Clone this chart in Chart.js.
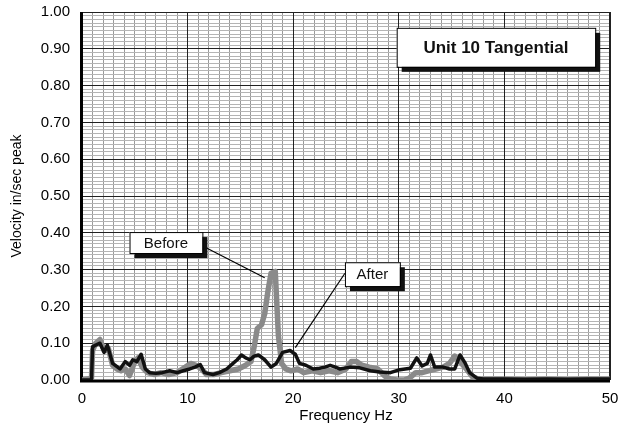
<!DOCTYPE html>
<html>
<head>
<meta charset="utf-8">
<script src="https://cdn.jsdelivr.net/npm/chart.js@4"></script>
<style>
  html, body { margin: 0; padding: 0; background: #fff; }
  #wrap { width: 624px; height: 433px; }
</style>
</head>
<body>
<div id="wrap"><canvas id="chart" width="624" height="433"></canvas></div>
<script>
// Before (gray) spectrum
const beforeFreq = [0, 0.9, 1.0, 1.3, 1.7, 2.1, 2.5, 2.9, 3.3, 3.7, 4.1, 4.5, 5.0, 5.3, 5.7, 6.2, 6.8, 7.5, 8.2, 9.0,
  9.8, 10.3, 10.8, 11.3, 11.8, 12.5, 13.2, 14.0, 14.8, 15.5, 16.0, 16.3, 16.6, 17.0, 17.3, 17.6, 17.9, 18.3, 18.6, 18.9,
  19.3, 19.8, 20.4, 21.0, 21.8, 22.6, 23.4, 24.2, 25.0, 25.5, 26.0, 26.5, 27.2, 28.0, 28.7, 29.2, 29.8, 30.5, 31.0, 31.6,
  32.2, 32.8, 33.5, 34.2, 34.8, 35.3, 35.8, 36.4, 37.0, 37.5, 38.5, 40, 42, 44, 46, 48, 50];
const beforeVel = [0, 0.005, 0.08, 0.10, 0.11, 0.08, 0.085, 0.04, 0.03, 0.025, 0.03, 0.012, 0.05, 0.06, 0.035, 0.02, 0.015, 0.02, 0.015, 0.02,
  0.035, 0.045, 0.04, 0.03, 0.015, 0.015, 0.02, 0.025, 0.03, 0.04, 0.05, 0.09, 0.14, 0.15, 0.18, 0.24, 0.29, 0.295, 0.12, 0.045,
  0.03, 0.025, 0.03, 0.02, 0.025, 0.02, 0.025, 0.02, 0.03, 0.05, 0.05, 0.04, 0.035, 0.03, 0.01, 0.003, 0, 0, 0.005, 0.02,
  0.02, 0.025, 0.03, 0.035, 0.045, 0.065, 0.05, 0.03, 0.008, 0.003, 0.002, 0.002, 0.001, 0.002, 0.001, 0.002, 0.002];

// After (black) spectrum
const afterFreq = [0, 0.9, 1.0, 1.3, 1.7, 2.1, 2.4, 2.9, 3.6, 4.1, 4.5, 4.8, 5.2, 5.6, 6.0, 6.4, 7.0, 7.6, 8.3, 9.0,
  9.6, 10.2, 10.7, 11.2, 11.6, 12.4, 13.0, 13.7, 14.3, 14.7, 15.1, 15.5, 15.9, 16.3, 16.7, 17.3, 17.9, 18.4, 19.0, 19.7,
  20.2, 20.6, 21.2, 21.9, 22.5, 23.0, 23.5, 24.0, 24.4, 25.0, 25.4, 26.3, 27.3, 28.2, 29.2, 30.1, 31.1, 31.7, 32.2, 32.7,
  33.0, 33.4, 34.2, 34.8, 35.3, 35.8, 36.3, 36.7, 37.4, 38, 40, 42, 44, 46, 48, 50];
const afterVel = [0, 0, 0.09, 0.095, 0.10, 0.075, 0.095, 0.045, 0.03, 0.05, 0.04, 0.055, 0.05, 0.07, 0.03, 0.02, 0.018, 0.02, 0.025, 0.02,
  0.025, 0.03, 0.035, 0.042, 0.02, 0.015, 0.02, 0.03, 0.045, 0.055, 0.068, 0.06, 0.055, 0.065, 0.068, 0.055, 0.035, 0.045, 0.075, 0.08,
  0.07, 0.045, 0.04, 0.03, 0.032, 0.035, 0.04, 0.035, 0.03, 0.033, 0.035, 0.033, 0.025, 0.022, 0.02, 0.028, 0.032, 0.06, 0.038, 0.045,
  0.068, 0.035, 0.035, 0.03, 0.03, 0.068, 0.045, 0.02, 0.005, 0.003, 0.003, 0.002, 0.003, 0.002, 0.003, 0.003];

const xTicks = [0, 10, 20, 30, 40, 50];
const chartTitle = 'Unit 10 Tangential';
const xTitle = 'Frequency Hz';
const yTitle = 'Velocity in/sec peak';

// label boxes, in data units: [x0, x1, yTop, yBottom]
const titleBox = { text: chartTitle, x0: 29.8, x1: 48.6, y0: 0.957, y1: 0.851, bold: true, size: 17 };
const beforeBox = { text: 'Before', x0: 4.5, x1: 11.4, y0: 0.402, y1: 0.345, size: 15, lineFrom: [11.7, 0.36], lineTo: [17.3, 0.278] };
const afterBox = { text: 'After', x0: 24.9, x1: 30.1, y0: 0.32, y1: 0.255, size: 15, lineFrom: [24.9, 0.29], lineTo: [20.2, 0.088] };

const FONT = "'Liberation Sans', Arial, sans-serif";

const pts = (xs, ys) => xs.map((x, i) => ({ x, y: ys[i] }));

const boxPlugin = {
  id: 'boxes',
  afterDatasetsDraw(chart) {
    const { ctx, scales: { x, y } } = chart;
    [titleBox, beforeBox, afterBox].forEach(b => {
      const l = x.getPixelForValue(b.x0), r = x.getPixelForValue(b.x1);
      const t = y.getPixelForValue(b.y0), bt = y.getPixelForValue(b.y1);
      ctx.save();
      if (b.lineFrom) {
        ctx.strokeStyle = '#000';
        ctx.lineWidth = 1.2;
        ctx.beginPath();
        ctx.moveTo(x.getPixelForValue(b.lineFrom[0]), y.getPixelForValue(b.lineFrom[1]));
        ctx.lineTo(x.getPixelForValue(b.lineTo[0]), y.getPixelForValue(b.lineTo[1]));
        ctx.stroke();
      }
      ctx.fillStyle = '#111';
      ctx.fillRect(l + 5, t + 5, r - l, bt - t);
      ctx.fillStyle = '#fff';
      ctx.fillRect(l, t, r - l, bt - t);
      ctx.strokeStyle = '#000';
      ctx.lineWidth = 1;
      ctx.strokeRect(l + 0.5, t + 0.5, r - l, bt - t);
      ctx.fillStyle = '#111';
      ctx.font = (b.bold ? 'bold ' : '') + b.size + 'px ' + FONT;
      ctx.textAlign = 'center';
      ctx.textBaseline = 'middle';
      ctx.fillText(b.text, (l + r) / 2, (t + bt) / 2 + 1);
      ctx.restore();
    });
  }
};

const frame = {
  id: 'frame',
  beforeDatasetsDraw(chart) {
    const { ctx, chartArea: a } = chart;
    ctx.save();
    ctx.strokeStyle = '#222';
    ctx.lineWidth = 1;
    ctx.strokeRect(a.left, a.top + 0.5, a.right - a.left - 0.5, a.bottom - a.top);
    ctx.strokeStyle = '#000';
    ctx.lineWidth = 3;
    ctx.beginPath();
    ctx.moveTo(a.left - 0.5, a.top);
    ctx.lineTo(a.left - 0.5, a.bottom + 1);
    ctx.lineTo(a.right, a.bottom + 1);
    ctx.stroke();
    ctx.restore();
  }
};

new Chart(document.getElementById('chart'), {
  type: 'line',
  data: {
    datasets: [
      { label: 'Before', data: pts(beforeFreq, beforeVel), borderColor: '#8a8a8a', borderWidth: 5.5, order: 2 },
      { label: 'After', data: pts(afterFreq, afterVel), borderColor: '#111', borderWidth: 3.5, order: 1 }
    ]
  },
  options: {
    responsive: false,
    animation: false,
    parsing: false,
    layout: { padding: { top: 12, right: 14, left: 0, bottom: 0 } },
    elements: { point: { radius: 0 }, line: { tension: 0, borderJoinStyle: 'round' } },
    plugins: { legend: { display: false }, tooltip: { enabled: false } },
    scales: {
      x: {
        type: 'linear', min: 0, max: 50,
        afterBuildTicks: s => { s.ticks = xTicks.map(v => ({ value: v })); },
        afterFit: s => { s.height = 53; s.paddingLeft = 0; s.paddingRight = 0; },
        grid: { color: '#222', lineWidth: 1, drawTicks: false, z: -1 },
        border: { display: false },
        ticks: { color: '#000', padding: 10, font: { family: FONT, size: 15 } },
        title: { display: true, text: xTitle, color: '#000', padding: { top: 0, bottom: 8 }, font: { family: FONT, size: 15 } }
      },
      y: {
        min: 0, max: 1,
        afterFit: s => { s.width = 82; s.paddingTop = 0; s.paddingBottom = 0; },
        grid: { color: '#222', lineWidth: 1, drawTicks: false, z: -1 },
        border: { display: false },
        ticks: { stepSize: 0.1, color: '#000', padding: 12, font: { family: FONT, size: 15 }, callback: v => v.toFixed(2) },
        title: { display: true, text: yTitle, color: '#000', padding: { top: 9, bottom: 0 }, font: { family: FONT, size: 14 } }
      },
      xMinor: {
        type: 'linear', position: 'bottom', min: 0, max: 50,
        afterFit: s => { s.height = 0; s.paddingLeft = 0; s.paddingRight = 0; },
        grid: { color: '#9a9a9a', lineWidth: 1, drawTicks: false, z: -2 },
        border: { display: false },
        ticks: { display: false, stepSize: 1 }
      },
      yMinor: {
        type: 'linear', position: 'left', min: 0, max: 1,
        afterFit: s => { s.width = 0; s.paddingTop = 0; s.paddingBottom = 0; },
        grid: { color: '#b4b4b4', lineWidth: 1, drawTicks: false, z: -2 },
        border: { display: false },
        ticks: { display: false, stepSize: 0.01, autoSkip: false, maxTicksLimit: 200 }
      }
    }
  },
  plugins: [frame, boxPlugin]
});
</script>
</body>
</html>
